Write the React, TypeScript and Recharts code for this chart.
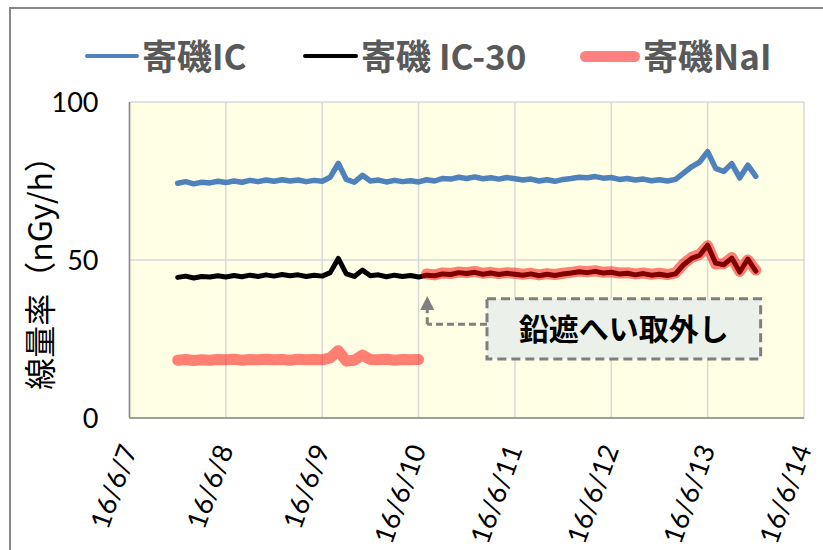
import {
  CartesianGrid,
  Label,
  Line,
  LineChart,
  ReferenceArea,
  ReferenceDot,
  ReferenceLine,
  XAxis,
  YAxis,
} from "recharts";

// 寄磯モニタリングステーション 2時間ごとの線量率
const START_DAY = 7.5;
const STEP = 1 / 12;

const icValues = [
  74.3, 74.8, 74.1, 74.6, 74.4, 74.9, 74.5, 75.0, 74.6, 75.2, 74.8, 75.3,
  74.9, 75.4, 75.0, 75.3, 74.8, 75.2, 74.9, 76.2, 80.6, 75.5, 74.6, 76.8,
  75.0, 75.3, 74.7, 75.2, 74.8, 75.1, 74.7, 75.4, 75.0, 75.8, 75.6, 76.2,
  75.8, 76.3, 75.7, 76.0, 75.6, 76.1, 75.7, 75.3, 75.6, 75.0, 75.4, 74.9,
  75.5, 75.8, 76.2, 76.0, 76.4, 75.9, 76.1, 75.5, 75.8, 75.3, 75.6, 75.1,
  75.4, 75.0, 75.5, 77.5, 79.5, 81.0, 84.3, 79.0, 78.0, 80.5, 76.0, 80.0,
  76.5,
];

const ic30Values = [
  44.5, 44.9, 44.3, 44.8, 44.6, 45.0, 44.6, 45.1, 44.7, 45.2, 44.8, 45.3,
  44.9, 45.4, 45.0, 45.3, 44.8, 45.2, 44.9, 46.0, 50.5, 45.6, 44.8, 46.8,
  45.0, 45.3, 44.7, 45.2, 44.8, 45.1, 44.6, 45.2, 45.0, 45.6, 45.4, 46.0,
  45.7, 46.1, 45.5, 45.9, 45.4, 45.8, 45.5, 45.2, 45.6, 45.0, 45.5, 45.1,
  45.6, 45.9, 46.3, 46.0, 46.4, 45.9, 46.1, 45.6, 45.8, 45.3, 45.7, 45.2,
  45.5, 45.1, 45.6, 48.5, 50.5, 51.5, 54.7, 49.0, 48.5, 50.6, 46.2, 50.3,
  46.5,
];

// NaI：鉛遮へいあり（〜16/6/10）
const naiShielded = [
  18.3, 18.5, 18.2, 18.4, 18.3, 18.5, 18.4, 18.6, 18.3, 18.5, 18.4, 18.6,
  18.4, 18.5, 18.3, 18.6, 18.4, 18.5, 18.4, 19.0, 21.3, 18.0, 18.3, 19.9,
  18.5, 18.4, 18.6, 18.3, 18.5, 18.4, 18.5,
];

// NaI：鉛遮へい取外し後
const naiOpen = [
  45.6, 45.3, 45.9, 45.7, 46.2, 46.0, 46.4, 45.8, 46.1, 45.7, 46.0, 45.8,
  45.5, 45.8, 45.3, 45.7, 45.4, 45.8, 46.1, 46.5, 46.3, 46.6, 46.1, 46.3,
  45.9, 46.0, 45.6, 45.9, 45.5, 45.8, 45.4, 45.9, 48.8, 50.8, 51.8, 54.5,
  48.7, 48.8, 50.8, 46.4, 50.0, 46.8,
];

const dayTicks = [7, 8, 9, 10, 11, 12, 13, 14];
const yTicks = [0, 50, 100];
const yMinorTicks = [10, 20, 30, 40, 60, 70, 80, 90];

const legendItems = [
  { name: "寄磯IC", color: "#4F81BD", width: 4, left: 85, lineLen: 54 },
  { name: "寄磯 IC-30", color: "#000000", width: 4, left: 303, lineLen: 55 },
  { name: "寄磯NaI", color: "#FF8080", width: 11, left: 580, lineLen: 60 },
];

const data = icValues.map((ic, i) => ({
  day: START_DAY + i * STEP,
  ic,
  ic30: ic30Values[i],
  naiA: i < naiShielded.length ? naiShielded[i] : null,
  naiB: i >= naiShielded.length ? naiOpen[i - naiShielded.length] : null,
}));

const GRID = "#D9D9D9";
const BORDER = "#878787";

function DateTick({ x, y, payload }: any) {
  const ax = x + 8;
  const ay = y + 31;
  return (
    <text
      x={ax}
      y={ay}
      transform={`rotate(-70 ${ax} ${ay})`}
      textAnchor="end"
      fontSize={27}
      fontFamily="Lato, sans-serif"
      fill="#000"
    >
      {`16/6/${payload.value}`}
    </text>
  );
}

function ValueTick({ x, y, payload }: any) {
  return (
    <text
      x={x - 31}
      y={y}
      dy="0.36em"
      textAnchor="end"
      fontSize={27}
      fontFamily="Lato, sans-serif"
      fill="#000"
    >
      {payload.value}
    </text>
  );
}

function YTitle(props: any) {
  const vb = props.viewBox || { x: 0, y: 102, width: 130, height: 316 };
  const cx = vb.x + 38;
  const cy = vb.y + vb.height / 2 + 5;
  return (
    <text
      x={cx}
      y={cy}
      transform={`rotate(-90 ${cx} ${cy})`}
      textAnchor="middle"
      dominantBaseline="central"
      fontSize={32}
      fontFamily="Noto Sans CJK JP, sans-serif"
      fill="#000"
    >
      線量率（nGy/h）
    </text>
  );
}

function ArrowHead({ cx, cy }: any) {
  return (
    <polygon
      points={`${cx - 7},${cy} ${cx + 7},${cy} ${cx},${cy - 14}`}
      fill="#808080"
    />
  );
}

export default function App() {
  return (
    <div
      style={{
        position: "absolute",
        left: 0,
        top: 0,
        width: 823,
        height: 550,
        background: "#fff",
        overflow: "hidden",
      }}
    >
      <div
        style={{
          position: "absolute",
          left: 9,
          top: 7,
          width: 900,
          height: 600,
          borderTop: `2px solid ${BORDER}`,
          borderLeft: `2px solid ${BORDER}`,
        }}
      />
      {legendItems.map((item) => (
        <div
          key={item.name}
          style={{
            position: "absolute",
            left: item.left,
            top: 32,
            height: 44,
            display: "flex",
            alignItems: "center",
            fontFamily: "Noto Sans CJK JP, sans-serif",
            fontWeight: 700,
            fontSize: 35,
            color: "#595959",
            whiteSpace: "nowrap",
          }}
        >
          <span
            style={{
              display: "inline-block",
              width: item.lineLen,
              height: item.width,
              borderRadius: item.width / 2,
              background: item.color,
              marginRight: 3,
              marginTop: 4,
            }}
          />
          <span>{item.name}</span>
        </div>
      ))}
      <div style={{ position: "absolute", left: 0, top: 0 }}>
        <LineChart
          width={823}
          height={550}
          data={data}
          margin={{ top: 102, right: 19, bottom: 0, left: 0 }}
        >
          <CartesianGrid
            stroke={GRID}
            strokeWidth={1.5}
            fill="#FFFFE5"
            fillOpacity={1}
          />
          <YAxis
            yAxisId="minor"
            mirror
            width={0}
            domain={[0, 100]}
            ticks={yMinorTicks}
            tick={false}
            tickSize={7}
            tickLine={{ stroke: BORDER, strokeWidth: 1.5 }}
            axisLine={false}
          />
          <YAxis
            width={129.5}
            domain={[0, 100]}
            ticks={yTicks}
            tick={<ValueTick />}
            tickSize={0}
            tickMargin={0}
            tickLine={false}
            axisLine={{ stroke: BORDER, strokeWidth: 1.5 }}
          >
            <Label content={<YTitle />} />
          </YAxis>
          <YAxis
            yAxisId="right"
            orientation="right"
            width={0}
            domain={[0, 100]}
            tick={false}
            tickLine={false}
            axisLine={{ stroke: BORDER, strokeWidth: 1.5 }}
          />
          <XAxis
            dataKey="day"
            type="number"
            domain={[7, 14]}
            ticks={dayTicks}
            height={132}
            tick={<DateTick />}
            tickSize={0}
            tickMargin={0}
            tickLine={false}
            axisLine={{ stroke: BORDER, strokeWidth: 1.5 }}
            allowDataOverflow
          />
          <XAxis
            xAxisId="top"
            orientation="top"
            dataKey="day"
            type="number"
            domain={[7, 14]}
            height={0}
            tick={false}
            tickLine={false}
            axisLine={{ stroke: BORDER, strokeWidth: 1.5 }}
          />
          <ReferenceArea
            x1={10.71}
            x2={13.55}
            y1={18.7}
            y2={37.7}
            fill="#EBF1EA"
            fillOpacity={1}
            stroke="#7F7F7F"
            strokeWidth={3}
            strokeDasharray="9 5"
          >
            <Label
              value="鉛遮へい取外し"
              position="center"
              fill="#000"
              fontSize={30}
              fontWeight={700}
              fontFamily="Noto Sans CJK JP, sans-serif"
            />
          </ReferenceArea>
          <ReferenceLine
            segment={[
              { x: 10.71, y: 29.7 },
              { x: 10.09, y: 29.7 },
            ]}
            stroke="#808080"
            strokeWidth={3}
            strokeDasharray="7 4"
          />
          <ReferenceLine
            segment={[
              { x: 10.09, y: 29.7 },
              { x: 10.09, y: 34.5 },
            ]}
            stroke="#808080"
            strokeWidth={3}
            strokeDasharray="7 4"
          />
          <ReferenceDot
            x={10.09}
            y={34.2}
            r={7}
            shape={<ArrowHead />}
          />
          <Line
            dataKey="ic"
            stroke="#4F81BD"
            strokeWidth={5.5}
            strokeLinejoin="round"
            strokeLinecap="round"
            dot={false}
            isAnimationActive={false}
          />
          <Line
            dataKey="ic30"
            stroke="#000"
            strokeWidth={5}
            strokeLinejoin="round"
            strokeLinecap="round"
            dot={false}
            isAnimationActive={false}
          />
          <Line
            dataKey="naiA"
            stroke="#FF0000"
            strokeOpacity={0.5}
            strokeWidth={11}
            strokeLinecap="round"
            strokeLinejoin="round"
            dot={false}
            isAnimationActive={false}
          />
          <Line
            dataKey="naiB"
            stroke="#FF0000"
            strokeOpacity={0.5}
            strokeWidth={11}
            strokeLinecap="round"
            strokeLinejoin="round"
            dot={false}
            isAnimationActive={false}
          />
        </LineChart>
      </div>
    </div>
  );
}
